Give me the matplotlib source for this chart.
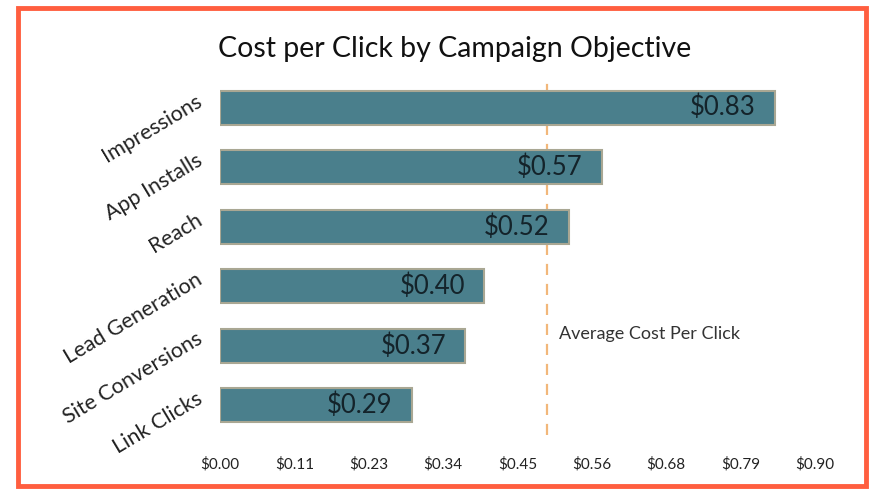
import numpy as np
import matplotlib
matplotlib.use('Agg')
import matplotlib.pyplot as plt
import matplotlib.transforms as mtransforms
from matplotlib.patches import Rectangle

plt.rcParams['font.family'] = ['Lato', 'DejaVu Sans']

objectives = ['Impressions', 'App Installs', 'Reach', 'Lead Generation',
              'Site Conversions', 'Link Clicks']
# bar lengths, labels as printed on the bars
cpc = [0.84, 0.578, 0.528, 0.40, 0.371, 0.29]
cpc_labels = ['$0.83', '$0.57', '$0.52', '$0.40', '$0.37', '$0.29']
avg_cpc = 0.495
xticks = [0.0, 0.1125, 0.225, 0.3375, 0.45, 0.5625, 0.675, 0.7875, 0.90]

fig = plt.figure(figsize=(8.77, 4.9), dpi=100)
ax = fig.add_axes([0.251, 0.112, 0.678, 0.735])

y = np.arange(len(objectives))[::-1]
bars = ax.barh(y, cpc, height=0.57, color='#4a7f8c', edgecolor='#a9a793', linewidth=1.5)

for b, lab in zip(bars, cpc_labels):
    ax.text(b.get_width() - 0.029, b.get_y() + b.get_height() / 2, lab,
            ha='right', va='center', fontsize=18.5, color='#14232a')

ax.axvline(avg_cpc, color='#f2b77a', linestyle=(0, (5, 4)), linewidth=1.6, zorder=0)
ax.text(avg_cpc + 0.018, y[4] + 0.2, 'Average Cost Per Click', fontsize=13,
        color='#333333', va='center')

ax.set_xlim(0, 0.9)
ax.set_ylim(-0.5, 5.55)
ax.set_xticks(xticks)
ax.set_xticklabels([f'${t:.2f}' for t in xticks], fontsize=11, color='#222222')
ax.set_yticks(y)
ax.set_yticklabels(objectives, fontsize=15.5, color='#222222', rotation=31,
                   ha='right', va='center', rotation_mode='anchor')
ax.tick_params(axis='x', length=0, pad=16)
ax.tick_params(axis='y', length=0, pad=14)
shift_up = mtransforms.ScaledTranslation(0, 6 / 72, fig.dpi_scale_trans)
for lab in ax.get_yticklabels():
    lab.set_transform(lab.get_transform() + shift_up)
for s in ax.spines.values():
    s.set_visible(False)

fig.text(0.518, 0.901, 'Cost per Click by Campaign Objective', ha='center',
         va='center', fontsize=20.5, color='#111111')

fig.patches.append(Rectangle((0.021, 0.008), 0.966, 0.975, transform=fig.transFigure,
                             fill=False, edgecolor='#ff5e3f', linewidth=3.5))

fig.savefig('out.png', dpi=100)
